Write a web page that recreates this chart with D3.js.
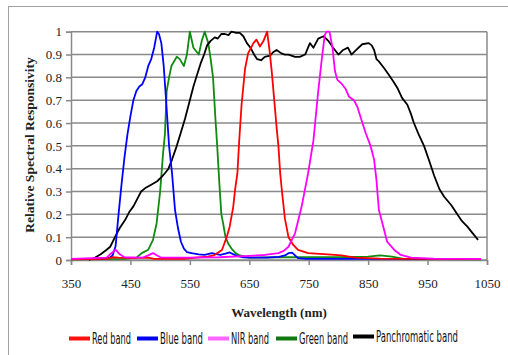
<!DOCTYPE html>
<html>
<head>
<meta charset="utf-8">
<script src="https://cdn.jsdelivr.net/npm/d3@7"></script>
<style>
  body { margin: 0; background: #fff; }
  svg { display: block; }
</style>
</head>
<body>
<svg id="chart"></svg>
<script>
// wavelength (nm) / relative responsivity
const redWl = [350, 410, 420, 430, 450, 480, 490, 540, 560, 580, 590, 604, 612, 617, 623, 626, 630, 633, 637, 643, 648, 657, 662, 668, 674, 680, 684, 688, 692, 696, 699, 702, 705, 710, 716, 724, 732, 749, 782, 805, 828, 870, 1040];
const redVal = [0.003, 0.005, 0.012, 0.01, 0.008, 0.01, 0.005, 0.005, 0.01, 0.015, 0.02, 0.044, 0.1, 0.146, 0.233, 0.306, 0.38, 0.52, 0.68, 0.84, 0.905, 0.95, 0.965, 0.935, 0.96, 1.0, 0.92, 0.82, 0.7, 0.58, 0.5, 0.38, 0.3, 0.18, 0.1, 0.066, 0.044, 0.03, 0.025, 0.02, 0.01, 0.006, 0.004];

const blueWl = [350, 400, 415, 420, 425, 430, 435, 440, 445, 450, 455, 460, 465, 470, 475, 480, 485, 490, 495, 498, 502, 506, 510, 515, 520, 525, 530, 535, 540, 545, 553, 565, 575, 587, 601, 610, 617, 629, 640, 650, 660, 680, 700, 710, 716, 722, 727, 732, 745, 1040];
const blueVal = [0.005, 0.005, 0.01, 0.02, 0.06, 0.2, 0.33, 0.45, 0.55, 0.63, 0.7, 0.74, 0.76, 0.77, 0.8, 0.85, 0.88, 0.93, 1.0, 0.99, 0.95, 0.85, 0.7, 0.5, 0.38, 0.22, 0.14, 0.08, 0.05, 0.035, 0.03, 0.025, 0.022, 0.03, 0.022, 0.028, 0.033, 0.018, 0.012, 0.01, 0.01, 0.01, 0.014, 0.02, 0.03, 0.032, 0.02, 0.008, 0.005, 0.005];

const nirWl = [350, 410, 418, 425, 432, 440, 470, 480, 488, 495, 502, 550, 600, 650, 676, 699, 708, 716, 727, 738, 749, 758, 766, 772, 777, 780, 785, 790, 794, 798, 806, 812, 818, 826, 832, 838, 846, 854, 860, 864, 868, 877, 882, 894, 905, 922, 960, 1040];
const nirVal = [0.005, 0.01, 0.03, 0.045, 0.025, 0.012, 0.01, 0.02, 0.03, 0.02, 0.01, 0.01, 0.012, 0.018, 0.022, 0.03, 0.04, 0.058, 0.117, 0.233, 0.38, 0.525, 0.74, 0.88, 0.985, 1.0, 1.0, 0.93, 0.83, 0.79, 0.77, 0.75, 0.715, 0.7, 0.67, 0.62, 0.555, 0.5, 0.44, 0.35, 0.22, 0.13, 0.08, 0.044, 0.022, 0.01, 0.006, 0.005];

const greenWl = [350, 440, 460, 469, 480, 488, 494, 500, 505, 508, 511, 515, 519, 528, 533, 540, 545, 550, 556, 565, 570, 575, 581, 585, 589, 593, 596, 600, 603, 606, 610, 615, 620, 627, 634, 650, 700, 800, 850, 870, 890, 910, 1040];
const greenVal = [0.003, 0.005, 0.01, 0.03, 0.045, 0.088, 0.16, 0.3, 0.47, 0.55, 0.74, 0.8, 0.85, 0.89, 0.88, 0.85, 0.9, 1.0, 0.93, 0.9, 0.96, 1.0, 0.95, 0.88, 0.8, 0.62, 0.5, 0.32, 0.2, 0.16, 0.1, 0.07, 0.05, 0.03, 0.02, 0.01, 0.012, 0.012, 0.015, 0.02, 0.015, 0.005, 0.003];

const panWl = [380, 390, 400, 410, 416, 424, 432, 441, 448, 455, 462, 468, 475, 485, 495, 503, 508, 514, 520, 528, 535, 542, 550, 556, 562, 568, 574, 579, 585, 592, 597, 603, 609, 615, 620, 628, 634, 640, 646, 652, 658, 663, 670, 676, 685, 690, 696, 704, 710, 716, 727, 735, 744, 752, 758, 766, 775, 783, 791, 800, 808, 816, 822, 830, 840, 851, 856, 860, 864, 868, 877, 885, 893, 900, 907, 916, 922, 927, 935, 944, 952, 961, 970, 978, 990, 1000, 1008, 1017, 1025, 1035];
const panVal = [0, 0.01, 0.025, 0.045, 0.058, 0.1, 0.14, 0.175, 0.21, 0.235, 0.27, 0.3, 0.315, 0.33, 0.345, 0.365, 0.38, 0.4, 0.44, 0.5, 0.56, 0.62, 0.7, 0.76, 0.81, 0.86, 0.9, 0.94, 0.96, 0.975, 0.97, 0.99, 0.99, 0.985, 1.0, 0.995, 0.995, 0.98, 0.95, 0.93, 0.9, 0.88, 0.875, 0.89, 0.895, 0.91, 0.92, 0.905, 0.9, 0.9, 0.89, 0.89, 0.9, 0.95, 0.93, 0.97, 0.98, 0.96, 0.93, 0.9, 0.92, 0.93, 0.9, 0.92, 0.945, 0.95, 0.94, 0.92, 0.88, 0.87, 0.84, 0.81, 0.78, 0.75, 0.71, 0.68, 0.64, 0.6, 0.55, 0.5, 0.44, 0.37, 0.31, 0.277, 0.24, 0.2, 0.17, 0.146, 0.12, 0.088];

const xTicks = [350, 450, 550, 650, 750, 850, 950, 1050];
const yTicks = [0, 0.1, 0.2, 0.3, 0.4, 0.5, 0.6, 0.7, 0.8, 0.9, 1];

const series = [
  { name: 'Green band', wl: greenWl, val: greenVal, color: '#108a10' },
  { name: 'Panchromatic band', wl: panWl, val: panVal, color: '#000000' },
  { name: 'Blue band', wl: blueWl, val: blueVal, color: '#0000ff' },
  { name: 'Red band', wl: redWl, val: redVal, color: '#ff0000' },
  { name: 'NIR band', wl: nirWl, val: nirVal, color: '#ff00ff' }
];

// legend order as in the picture
const legend = [
  { name: 'Red band', color: '#ff1010', x: 69, tw: 39 },
  { name: 'Blue band', color: '#0000ee', x: 137, tw: 43 },
  { name: 'NIR band', color: '#ff66ff', x: 208, tw: 38 },
  { name: 'Green band', color: '#107a10', x: 276, tw: 49 },
  { name: 'Panchromatic band', color: '#000000', x: 353, tw: 82 }
];

const width = 508, height = 355;
const plotL = 71, plotR = 487, plotT = 31.7, plotB = 260;

const svg = d3.select('#chart')
  .attr('width', width)
  .attr('height', height);

// outer frame (only top and left edges fall inside the picture)
svg.append('rect')
  .attr('x', 8.5).attr('y', 6.5)
  .attr('width', 520).attr('height', 380)
  .attr('fill', 'none')
  .attr('stroke', '#a0a0a0');

const x = d3.scaleLinear().domain([350, 1050]).range([plotL, plotR]);
const y = d3.scaleLinear().domain([0, 1]).range([plotB, plotT]);

const grid = svg.append('g');
grid.selectAll('line.h')
  .data(yTicks)
  .enter()
  .append('line')
  .attr('x1', plotL)
  .attr('x2', plotR)
  .attr('y1', d => y(d))
  .attr('y2', d => y(d))
  .attr('stroke', '#8a8a8a')
  .attr('stroke-width', 1.5);

grid.append('line')
  .attr('x1', plotR).attr('x2', plotR)
  .attr('y1', plotT).attr('y2', plotB)
  .attr('stroke', '#8a8a8a')
  .attr('stroke-width', 1.5);

const yAxis = svg.append('g')
  .attr('transform', `translate(${plotL},0)`)
  .call(d3.axisLeft(y).tickValues(yTicks).tickSize(5).tickPadding(4).tickFormat(d3.format('')));

const xAxis = svg.append('g')
  .attr('transform', `translate(0,${plotB})`)
  .call(d3.axisBottom(x).tickValues(xTicks).tickSize(5).tickPadding(14).tickFormat(d3.format('')));

[xAxis, yAxis].forEach(a => {
  a.select('.domain').attr('stroke', '#8a8a8a').attr('stroke-width', 1.5);
  a.selectAll('.tick line').attr('stroke', '#8a8a8a').attr('stroke-width', 1.5);
  a.selectAll('text')
    .attr('fill', '#222')
    .style('font-family', '"Liberation Serif", "Times New Roman", serif')
    .style('font-size', '13px');
});

const line = d3.line()
  .x(d => x(d[0]))
  .y(d => y(d[1]));

svg.append('g')
  .selectAll('path')
  .data(series)
  .enter()
  .append('path')
  .attr('d', s => line(d3.zip(s.wl, s.val)))
  .attr('fill', 'none')
  .attr('stroke', s => s.color)
  .attr('stroke-width', 1.8)
  .attr('stroke-linejoin', 'round');

// axis titles
svg.append('text')
  .attr('x', 279)
  .attr('y', 317)
  .attr('text-anchor', 'middle')
  .style('font-family', '"Liberation Serif", "Times New Roman", serif')
  .style('font-weight', 'bold')
  .style('font-size', '13px')
  .attr('fill', '#222')
  .text('Wavelength (nm)');

svg.append('text')
  .attr('transform', 'translate(34,145) rotate(-90)')
  .attr('text-anchor', 'middle')
  .style('font-family', '"Liberation Serif", "Times New Roman", serif')
  .style('font-weight', 'bold')
  .style('font-size', '13.5px')
  .attr('fill', '#222')
  .text('Relative Spectral Responsivity');

// legend
const lg = svg.append('g')
  .selectAll('g')
  .data(legend)
  .enter()
  .append('g');

lg.append('line')
  .attr('x1', d => d.x)
  .attr('x2', d => d.x + 21)
  .attr('y1', (d, i) => i === 4 ? 336.5 : 338.5)
  .attr('y2', (d, i) => i === 4 ? 336.5 : 338.5)
  .attr('stroke', d => d.color)
  .attr('stroke-width', 4);

lg.append('text')
  .attr('x', d => d.x + 23)
  .attr('y', (d, i) => i === 4 ? 342 : 344)
  .attr('textLength', d => d.tw)
  .attr('lengthAdjust', 'spacingAndGlyphs')
  .style('font-family', '"Liberation Sans Narrow", "DejaVu Sans Condensed", sans-serif')
  .style('font-size', '15px')
  .attr('fill', '#111')
  .text(d => d.name);
</script>
</body>
</html>
